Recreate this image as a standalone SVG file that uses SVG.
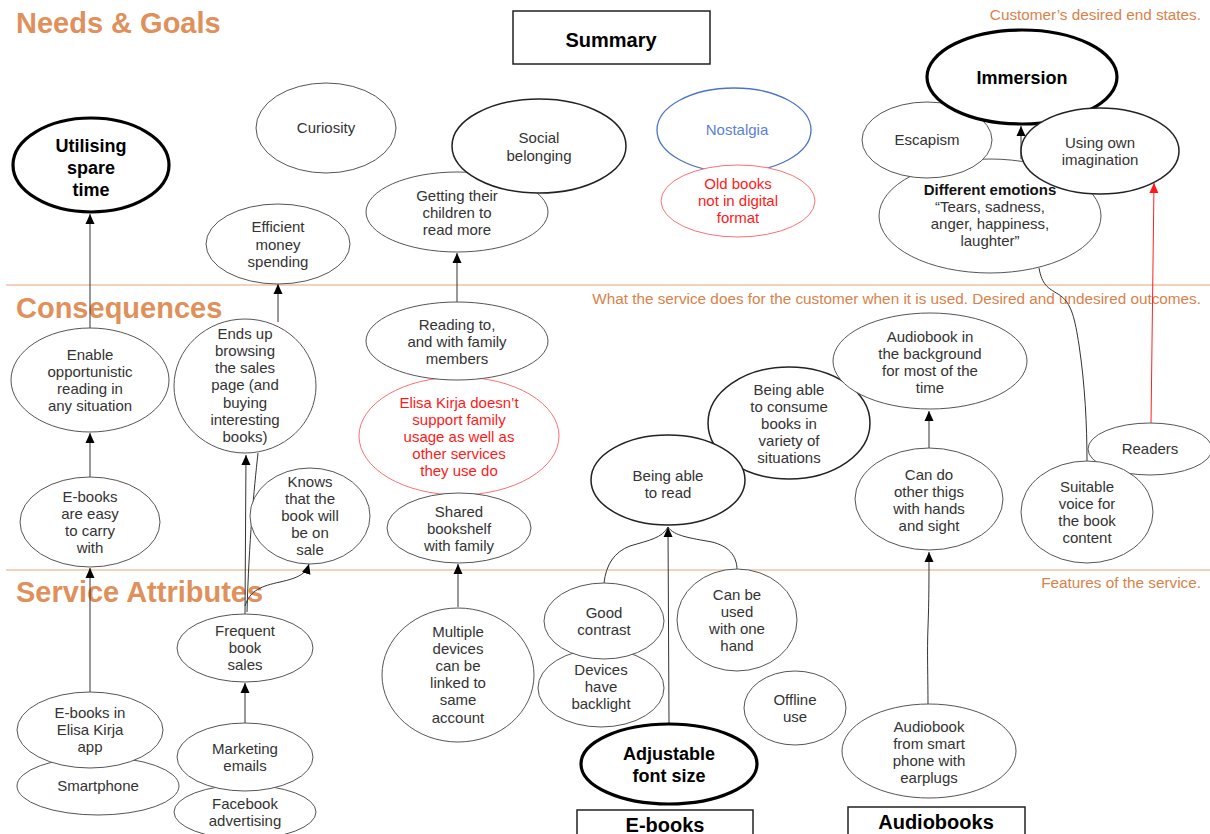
<svg xmlns="http://www.w3.org/2000/svg" width="1210" height="834" viewBox="0 0 1210 834">
<defs>
<style>
.bg{fill:#fff}
.n{fill:#fff;stroke:#555;stroke-width:1}
.d{fill:#fff;stroke:#222;stroke-width:1.5}
.k{fill:#fff;stroke:#000;stroke-width:3.2}
.blue{fill:#fff;stroke:#4a74c9;stroke-width:1.3}
.red{fill:#fff;stroke:#ff7070;stroke-width:1}
text{font-family:"Liberation Sans",Arial,sans-serif;font-size:15px;fill:#333;text-anchor:middle}
.b{font-weight:bold;fill:#000;font-size:18px}
.rt{fill:#ff1a1a}
.bt{fill:#5b80d6}
.hd{font-weight:bold;font-size:29px;fill:#e0905a;text-anchor:start}
.ds{font-size:15.3px;fill:#d9824a;text-anchor:end}
.sec{stroke:#e8a47c;stroke-width:1.2}
.box{fill:#fff;stroke:#222;stroke-width:1.5}
.bx{font-weight:bold;font-size:20px;fill:#000}
.c{fill:none;stroke:#333;stroke-width:1}
.cr{fill:none;stroke:#ff2020;stroke-width:1}
</style>
<marker id="ah" viewBox="0 0 10 10" refX="10" refY="5" markerWidth="10" markerHeight="10" markerUnits="userSpaceOnUse" orient="auto"><path d="M0,0.5 L10,5 L0,9.5 z" fill="#000"/></marker>
<marker id="ahr" viewBox="0 0 10 10" refX="10" refY="5" markerWidth="10" markerHeight="10" markerUnits="userSpaceOnUse" orient="auto"><path d="M0,0.5 L10,5 L0,9.5 z" fill="#ff1a1a"/></marker>
</defs>
<rect class="bg" x="0" y="0" width="1210" height="834"/>

<g id="sections">
<line class="sec" x1="6" y1="285" x2="1210" y2="285"/>
<line class="sec" x1="6" y1="570" x2="1210" y2="570"/>
<text class="hd" x="16" y="33">Needs &amp; Goals</text>
<text class="hd" x="16" y="318">Consequences</text>
<text class="hd" x="16" y="602">Service Attributes</text>
<text class="ds" x="1201" y="20">Customer’s desired end states.</text>
<text class="ds" x="1201" y="304">What the service does for the customer when it is used. Desired and undesired outcomes.</text>
<text class="ds" x="1201" y="588">Features of the service.</text>
</g>

<g id="connectors">
<line class="c" x1="90" y1="328" x2="90" y2="214" marker-end="url(#ah)"/>
<line class="c" x1="278" y1="322" x2="278" y2="284" marker-end="url(#ah)"/>
<line class="c" x1="90" y1="477" x2="90" y2="433" marker-end="url(#ah)"/>
<line class="c" x1="90" y1="692" x2="90" y2="568" marker-end="url(#ah)"/>
<line class="c" x1="245" y1="723" x2="245" y2="683" marker-end="url(#ah)"/>
<line class="c" x1="245" y1="614" x2="246" y2="455" marker-end="url(#ah)"/>
<path class="c" d="M247,612 C249,540 254,490 258,453"/>
<path class="c" d="M245,606 C250,590 262,586 280,582 C298,578 306,574 309,564" marker-end="url(#ah)"/>
<line class="c" x1="457" y1="302" x2="457" y2="253" marker-end="url(#ah)"/>
<line class="c" x1="458" y1="607" x2="458" y2="564" marker-end="url(#ah)"/>
<line class="c" x1="669" y1="723" x2="668" y2="527" marker-end="url(#ah)"/>
<path class="c" d="M604,583 C606,565 614,552 630,546 C650,540 662,538 668,527"/>
<path class="c" d="M737,570 C737,555 728,546 712,542 C690,538 674,536 668,527"/>
<line class="c" x1="929" y1="448" x2="929" y2="411" marker-end="url(#ah)"/>
<path class="c" d="M928,705 C928,680 927,650 928,627 C929,600 929,580 929,552" marker-end="url(#ah)"/>
<line class="c" x1="1021" y1="159" x2="1021" y2="126" marker-end="url(#ah)"/>
<path class="c" d="M1039,268 C1042,285 1048,288 1058,294 C1072,302 1075,320 1079,345 C1085,385 1087,425 1087,462"/>
<line class="cr" x1="1151" y1="424" x2="1154" y2="183" marker-end="url(#ahr)"/>
</g>

<g id="summary"><rect class="box" x="513" y="11" width="197" height="53"/><text class="bx" x="611" y="47">Summary</text></g>

<g id="utilising"><ellipse class="k" cx="91" cy="165" rx="78" ry="47"/><text class="b" x="91" y="152">Utilising</text><text class="b" x="91" y="174">spare</text><text class="b" x="91" y="196">time</text></g>
<g id="curiosity"><ellipse class="n" cx="326" cy="128" rx="70" ry="45"/><text x="326" y="133">Curiosity</text></g>
<g id="efficient"><ellipse class="n" cx="278" cy="244" rx="72" ry="40"/><text x="278" y="232">Efficient</text><text x="278" y="250">money</text><text x="278" y="267">spending</text></g>
<g id="getting"><ellipse class="n" cx="457" cy="212" rx="91" ry="40"/><text x="457" y="201">Getting their</text><text x="457" y="218">children to</text><text x="457" y="235">read more</text></g>
<g id="social"><ellipse class="d" cx="539" cy="146" rx="87" ry="47"/><text x="539" y="143">Social</text><text x="539" y="161">belonging</text></g>
<g id="nostalgia"><ellipse class="blue" cx="734" cy="130" rx="77" ry="42"/><text class="bt" x="737" y="135">Nostalgia</text></g>
<g id="oldbooks"><ellipse class="red" cx="738" cy="201" rx="77" ry="36"/><text class="rt" x="738" y="189">Old books</text><text class="rt" x="738" y="206">not in digital</text><text class="rt" x="738" y="223">format</text></g>
<g id="diffemotions"><ellipse class="n" cx="990" cy="216" rx="111" ry="57"/><text x="990" y="195" style="font-weight:bold;fill:#111">Different emotions</text><text x="990" y="212">“Tears, sadness,</text><text x="990" y="229">anger, happiness,</text><text x="990" y="246">laughter”</text></g>
<g id="escapism"><ellipse class="n" cx="927" cy="140" rx="65" ry="38"/><text x="927" y="145">Escapism</text></g>
<g id="immersion"><ellipse class="k" cx="1022" cy="77" rx="95" ry="47"/><text class="b" x="1022" y="84">Immersion</text></g>
<g id="imagination"><ellipse class="d" cx="1100" cy="151" rx="79" ry="43"/><text x="1100" y="148">Using own</text><text x="1100" y="165">imagination</text></g>

<g id="enable"><ellipse class="n" cx="90" cy="380" rx="79" ry="52"/><text x="90" y="360">Enable</text><text x="90" y="377">opportunistic</text><text x="90" y="394">reading in</text><text x="90" y="411">any situation</text></g>
<g id="endsup"><ellipse class="n" cx="245" cy="386" rx="71" ry="67"/><text x="245" y="339">Ends up</text><text x="245" y="356">browsing</text><text x="245" y="373">the sales</text><text x="245" y="390">page (and</text><text x="245" y="408">buying</text><text x="245" y="425">interesting</text><text x="245" y="442">books)</text></g>
<g id="easycarry"><ellipse class="n" cx="90" cy="522" rx="70" ry="45"/><text x="90" y="502">E-books</text><text x="90" y="519">are easy</text><text x="90" y="536">to carry</text><text x="90" y="553">with</text></g>
<g id="knows"><ellipse class="n" cx="310" cy="516" rx="60" ry="48"/><text x="310" y="487">Knows</text><text x="310" y="504">that the</text><text x="310" y="521">book will</text><text x="310" y="538">be on</text><text x="310" y="555">sale</text></g>
<g id="elisared"><ellipse class="red" cx="459" cy="436" rx="100" ry="59"/><text class="rt" x="459" y="408">Elisa Kirja doesn’t</text><text class="rt" x="459" y="425">support family</text><text class="rt" x="459" y="442">usage as well as</text><text class="rt" x="459" y="459">other services</text><text class="rt" x="459" y="476">they use do</text></g>
<g id="readingto"><ellipse class="n" cx="457" cy="341" rx="91" ry="39"/><text x="457" y="330">Reading to,</text><text x="457" y="347">and with family</text><text x="457" y="364">members</text></g>
<g id="shared"><ellipse class="n" cx="459" cy="528" rx="72" ry="35"/><text x="459" y="517">Shared</text><text x="459" y="534">bookshelf</text><text x="459" y="551">with family</text></g>
<g id="consume"><ellipse class="d" cx="789" cy="423" rx="81" ry="56"/><text x="789" y="395">Being able</text><text x="789" y="412">to consume</text><text x="789" y="429">books in</text><text x="789" y="446">variety of</text><text x="789" y="463">situations</text></g>
<g id="ableread"><ellipse class="d" cx="668" cy="480" rx="77" ry="45"/><text x="668" y="481">Being able</text><text x="668" y="498">to read</text></g>
<g id="background"><ellipse class="n" cx="930" cy="361" rx="97" ry="48"/><text x="930" y="342">Audiobook in</text><text x="930" y="359">the background</text><text x="930" y="376">for most of the</text><text x="930" y="393">time</text></g>
<g id="cando"><ellipse class="n" cx="929" cy="499" rx="74" ry="51"/><text x="929" y="480">Can do</text><text x="929" y="497">other thigs</text><text x="929" y="514">with hands</text><text x="929" y="531">and sight</text></g>
<g id="readers"><ellipse class="n" cx="1150" cy="449" rx="62" ry="26"/><text x="1150" y="454">Readers</text></g>
<g id="suitable"><ellipse class="n" cx="1087" cy="512" rx="66" ry="51"/><text x="1087" y="492">Suitable</text><text x="1087" y="509">voice for</text><text x="1087" y="526">the book</text><text x="1087" y="543">content</text></g>

<g id="freqsales"><ellipse class="n" cx="245" cy="648" rx="68" ry="34"/><text x="245" y="636">Frequent</text><text x="245" y="653">book</text><text x="245" y="670">sales</text></g>
<g id="facebook"><ellipse class="n" cx="245" cy="812" rx="71" ry="27"/><text x="245" y="809">Facebook</text><text x="245" y="826">advertising</text></g>
<g id="marketing"><ellipse class="n" cx="245" cy="757" rx="68" ry="34"/><text x="245" y="754">Marketing</text><text x="245" y="771">emails</text></g>
<g id="smartphone"><ellipse class="n" cx="98" cy="786" rx="81" ry="29"/><text x="98" y="791">Smartphone</text></g>
<g id="ebooksapp"><ellipse class="n" cx="90" cy="730" rx="73" ry="38"/><text x="90" y="718">E-books in</text><text x="90" y="735">Elisa Kirja</text><text x="90" y="752">app</text></g>
<g id="multiple"><ellipse class="n" cx="458" cy="675" rx="76" ry="67"/><text x="458" y="637">Multiple</text><text x="458" y="654">devices</text><text x="458" y="671">can be</text><text x="458" y="688">linked to</text><text x="458" y="705">same</text><text x="458" y="723">account</text></g>
<g id="backlight"><ellipse class="n" cx="601" cy="688" rx="63" ry="39"/><text x="601" y="675">Devices</text><text x="601" y="692">have</text><text x="601" y="709">backlight</text></g>
<g id="contrast"><ellipse class="n" cx="604" cy="621" rx="60" ry="38"/><text x="604" y="618">Good</text><text x="604" y="635">contrast</text></g>
<g id="onehand"><ellipse class="n" cx="737" cy="620" rx="60" ry="51"/><text x="737" y="600">Can be</text><text x="737" y="617">used</text><text x="737" y="634">with one</text><text x="737" y="651">hand</text></g>
<g id="offline"><ellipse class="n" cx="795" cy="708" rx="51" ry="37"/><text x="795" y="705">Offline</text><text x="795" y="722">use</text></g>
<g id="adjustable"><ellipse class="k" cx="669" cy="764" rx="88" ry="40"/><text class="b" x="669" y="760">Adjustable</text><text class="b" x="669" y="782">font size</text></g>
<g id="phoneearplugs"><ellipse class="n" cx="929" cy="751" rx="87" ry="47"/><text x="929" y="732">Audiobook</text><text x="929" y="749">from smart</text><text x="929" y="766">phone with</text><text x="929" y="783">earplugs</text></g>
<g id="ebooksbox"><rect class="box" x="577" y="810" width="176" height="30"/><text class="bx" x="665" y="832">E-books</text></g>
<g id="audiobooksbox"><rect class="box" x="848" y="807" width="177" height="33"/><text class="bx" x="936" y="829">Audiobooks</text></g>
</svg>
